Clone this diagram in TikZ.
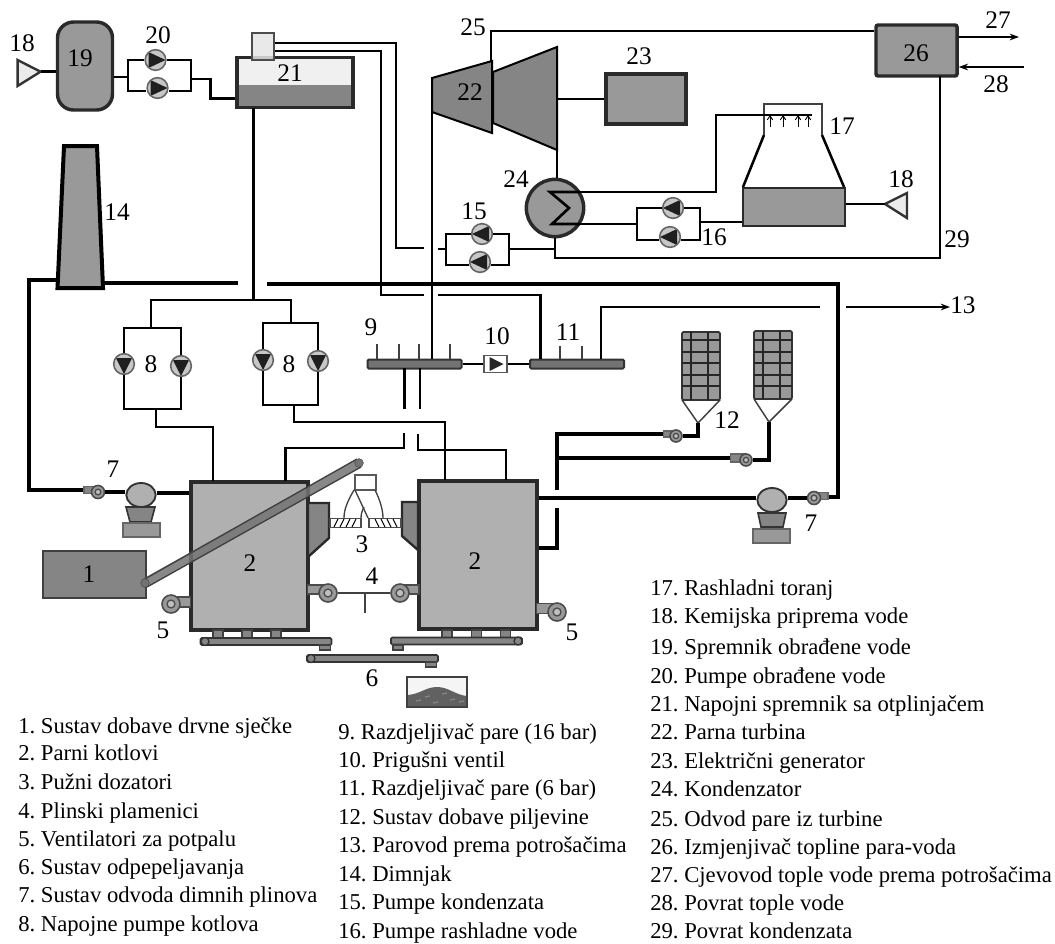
\documentclass[tikz,border=0pt]{standalone}
\usepackage{fontspec}
\setmainfont{Liberation Serif}
\frenchspacing
\usetikzlibrary{arrows.meta,shapes.geometric}
\definecolor{tankgray}{HTML}{999999}
\definecolor{darkgray}{HTML}{858585}
\definecolor{boilergray}{HTML}{B0B0B0}
\definecolor{edgegray}{HTML}{2A2A2A}
\tikzset{
  sized/.style 2 args={minimum width=#1*0.75pt,minimum height=#2*0.75pt,inner sep=0pt},
  equip/.style={draw=edgegray,line width=2.6pt,fill=tankgray},
  pipe/.style={line width=1.9pt,draw=black},
  flue/.style={line width=3pt,draw=black},
  thinpipe/.style={line width=1pt,draw=black!75},
  num/.style={font=\fontsize{19}{22}\selectfont,inner sep=0pt},
  legend/.style={font=\fontsize{17}{20}\selectfont,anchor=base west,inner sep=0pt},
  pumpnode/.style={circle,draw=black!60,fill=black!22,line width=1.2pt,minimum size=15.5pt,inner sep=0pt,
    path picture={\fill[black!88,shift={(path picture bounding box.center)}] #1 -- cycle;}},
  pumpright/.style={pumpnode={(-7,-8) -- (10,0) -- (-7,8)}},
  pumpleft/.style={pumpnode={(7,-8) -- (-10,0) -- (7,8)}},
  pumpdown/.style={pumpnode={(-8,-6) -- (0,10) -- (8,-6)}},
  fannode/.style={circle,draw=black!70,fill=black!40,line width=1.2pt,minimum size=#1*0.75pt,inner sep=0pt,
    path picture={\draw[black!70,line width=1pt,fill=black!25] (path picture bounding box.center) circle (#1*0.22);}},
  footnode/.style={draw=black!75,line width=1.2pt,fill=darkgray,sized={#1}{8}},
}
\begin{document}
\begin{tikzpicture}[x=0.75pt,y=-0.75pt]
  \useasboundingbox (0,0) rectangle (1055,943);
  % water treatment
  \draw[draw=black!80,line width=1.8pt,fill=black!8] (17.6,60) -- (40.5,71.7) -- (17.6,86) -- cycle;
  \coordinate (tri18l) at (40.5,71.7);
  \node[equip,sized={55}{88},rounded corners=12pt] (b19) at (85,66) {};
  \node[pumpright] (p20a) at (155.5,60) {};
  \node[pumpright] (p20b) at (157.5,88) {};
  \node[draw=edgegray,line width=2.6pt,fill=black!6,sized={116}{50},
    path picture={\fill[darkgray] (path picture bounding box.south west) rectangle ([yshift=-2pt]path picture bounding box.east);}] (b21) at (295,82.5) {};
  \node[draw=black!70,line width=1.5pt,fill=black!10,fill opacity=.85,sized={22}{27}] (b21top) at (263,46.5) {};
  \coordinate (j20l) at (128,77);
  \coordinate (j20r) at (191,79);
  \draw[pipe] (tri18l) -- (tri18l -| b19.west);
  \draw[pipe] (b19.east |- j20l) -- (j20l);
  \draw[pipe] (p20a.west) -- (128,60) -- (128,91) -- (p20b.west |- 0,91);
  \draw[pipe] (p20a.east) -- (191,60) -- (191,91) -- (p20b.east |- 0,91);
  \draw[pipe] (j20r) -| (210.6,98.7) -- (b21.west |- 0,98.7);
  % chimney
  \draw[line width=3pt,fill=tankgray] (64,146) -- (97,146) -- (103,288) -- (57.5,288) -- cycle;
  \coordinate (chim) at (57.5,280);
  \coordinate (chimr) at (103,283);
  \coordinate (flueend) at (238,283);
  \coordinate (fluestart) at (267,284);
  % turbine and generator
  \draw[draw=black,line width=1.5pt,fill=darkgray] (432,78) -- (492,61) -- (492,133) -- (432,112) -- cycle;
  \draw[draw=black,line width=1.5pt,fill=darkgray] (493,72) -- (557,47) -- (557,150) -- (493,123) -- cycle;
  \coordinate (t22t) at (491,61);
  \coordinate (t22b) at (432,112);
  \coordinate (t23s) at (557,99);
  \coordinate (t23b) at (557,150);
  \node[equip,sized={80}{50}] (b23) at (646,99) {};
  \node[equip,sized={81}{51},rounded corners=1.5pt] (b26) at (916.5,50.5) {};
  \node[circle,equip,minimum size=43pt,inner sep=0pt] (b24) at (555,208) {};
  \draw[pipe,line width=2pt] (580,192) -- (550,192) -- (569,208) -- (552,224) -- (580,224);
  \coordinate (s24t) at (580,192);
  \coordinate (s24b) at (580,224);
  % cooling tower
  \node[draw=edgegray,line width=1.6pt,fill=tankgray,sized={102}{38}] (b17) at (794,207) {};
  \draw[line width=1pt,draw=black!75] (764,135) -- (764,104) -- (822,104) -- (822,135);
  \draw[pipe] (764,135) -- (743,187);
  \draw[pipe] (822,135) -- (844,187);
  \foreach \x in {770,783,798,808}
    \draw[line width=.7pt,-{Straight Barb[length=3pt,width=4pt]}] (\x,127) -- (\x,115);
  \draw[draw=black!80,line width=1.8pt,fill=black!8] (885,204) -- (907,193) -- (907,218) -- cycle;
  \coordinate (tri18r) at (885,204);
  \node[pumpleft] (p16a) at (673,208) {};
  \node[pumpleft] (p16b) at (670,237) {};
  \node[pumpleft] (p15a) at (482,234) {};
  \node[pumpleft] (p15b) at (480,262) {};
  \coordinate (j15l) at (446,249);
  \coordinate (j15r) at (509,249);
  \coordinate (j16l) at (637,224);
  \coordinate (j16r) at (700,222);
  \draw[pipe] (p16a.west) -- (637,208) -- (637,240) -- (p16b.west |- 0,240);
  \draw[pipe] (p16a.east) -- (700,208) -- (700,240) -- (p16b.east |- 0,240);
  \draw[pipe] (p15a.west) -- (446,234) -- (446,265) -- (p15b.west |- 0,265);
  \draw[pipe] (p15a.east) -- (509,234) -- (509,265) -- (p15b.east |- 0,265);
  \draw[pipe] (t23s) -- (b23.west);
  \draw[pipe] (t23b) -- (b24.north -| t23b);
  \draw[pipe] (t22t) |- (b26.west |- 0,31);
  \draw[pipe] (s24t) -- (716,192) -- (716,115) -- (812,115);
  \draw[pipe] (s24b) -- (j16l);
  \draw[pipe] (j16r) -- (b17.west |- j16r);
  \draw[pipe] (b17.east |- tri18r) -- (tri18r);
  \draw[pipe] (j15r) -- (555,249);
  \draw[pipe] (b24.south) -- (555,258) -- (940,258) -- (940,76);
  \draw[pipe,-{Stealth[length=7pt,width=5pt]}] (b26.east |- 0,37) -- (1019,37);
  \draw[pipe,-{Stealth[length=7pt,width=5pt]}] (1024,67) -- (b26.east |- 0,67);
  % flue gas lines
  \draw[flue] (chim) -- (29,280) -- (29,490) -- (85,490);
  \draw[flue] (chimr) -- (flueend);
  \draw[flue] (fluestart) -- (838,284) -- (838,497) -- (828,497);
  % steam from deaerator and feed lines
  \draw[pipe] (b21top.east |- 0,43) -- (396,43) -- (396,248) -- (424,248);
  \draw[pipe] (438,249) -- (j15l);
  \draw[pipe] (b21top.east |- 0,51) -- (381,51) -- (381,295) -- (424,295);
  % distributors
  \node[draw=black!80,line width=1.5pt,fill=black!55,sized={94}{9},rounded corners=1pt] (b9) at (414.5,364) {};
  \node[draw=black!80,line width=1.5pt,fill=black!55,sized={94}{9},rounded corners=1pt] (b11) at (577,364) {};
  \node[draw=black!65,line width=1.3pt,fill=white,sized={23}{17},
    path picture={\fill[black!85,shift={(path picture bounding box.center)}] (-6,-7) -- (8,0) -- (-6,7) -- cycle;}] (b10) at (495.5,364) {};
  \draw[pipe] (b9.east) -- (b10.west);
  \draw[pipe] (b10.east) -- (b11.west);
  \foreach \x in {377,399,419,450}
    \draw[thinpipe,line width=1.2pt] (\x,359) -- (\x,344);
  \foreach \x in {560,582}
    \draw[thinpipe,line width=1.2pt] (\x,359) -- (\x,346);
  \draw[pipe] (t22b) -- (432,359);
  \draw[pipe] (438,295) -- (540.5,295) -- (540.5,359);
  \draw[pipe] (601,359) -- (601,307) -- (820,307);
  \node[num,anchor=west] (n13) at (950,305) {13};
  \draw[pipe,-{Stealth[length=7pt,width=5pt]}] (846,307) -- (n13.west |- 0,307);
  \draw[pipe] (404.6,368) -- (404.6,409);
  \draw[pipe] (420,368) -- (420,409);
  % feed pumps
  \coordinate (v21) at (253.5,108);
  \draw[pipe] (v21) -- (253.5,300);
  \draw[pipe] (151,328) -- (151,300) -- (291,300) -- (291,323);
  \node[pumpdown] (p8a) at (124,364) {};
  \node[pumpdown] (p8b) at (181,366) {};
  \node[pumpdown] (p8c) at (263,360) {};
  \node[pumpdown] (p8d) at (318,361) {};
  \draw[pipe] (p8a.north) -- (p8a.north |- 0,328) -- (p8b.north |- 0,328) -- (p8b.north);
  \draw[pipe] (p8a.south) -- (p8a.south |- 0,409) -- (p8b.south |- 0,409) -- (p8b.south);
  \draw[pipe] (p8c.north) -- (p8c.north |- 0,323) -- (p8d.north |- 0,323) -- (p8d.north);
  \draw[pipe] (p8c.south) -- (p8c.south |- 0,405) -- (p8d.south |- 0,405) -- (p8d.south);
  % silos
  \foreach \xa/\xb/\ya/\yb/\xl/\xr/\ty/\tx in {682/720/332/400/691/708/423/698,754/792/331/399/763/780/422/769}{
    \draw[draw=black!75,line width=1.1pt] (\xa,\yb) -- (\tx,\ty) -- (\xb,\yb);
    \draw[draw=black!80,line width=1.3pt,fill=tankgray,rounded corners=1pt] (\xa,\ya) rectangle (\xb,\yb);
    \foreach \g in {340,352,363,375,386}
      \draw[line width=1pt,draw=black!85] (\xa,\g) -- (\xb,\g);
    \draw[line width=1pt,draw=black!85] (\xl,\ya) -- (\xl,\yb);
    \draw[line width=1pt,draw=black!85] (\xr,\ya) -- (\xr,\yb);
  }
  \node[draw=black!60,line width=1pt,fill=darkgray,sized={13}{6}] (duct12a) at (670,434) {};
  \node[fannode=12] (fan12a) at (676,436) {};
  \node[draw=black!60,line width=1pt,fill=darkgray,sized={15}{8}] (duct12b) at (738,458) {};
  \node[fannode=12] (fan12b) at (746,460) {};
  \coordinate (silo1) at (698,423);
  \coordinate (silo2) at (769,422);
  \draw[flue] (silo1) |- (fan12a.east);
  \draw[flue] (silo2) |- (fan12b.east);
  \draw[flue] (duct12a.west) -- (557,434) -- (557,490);
  \draw[flue] (duct12b.west) -- (557,458);
  % boilers
  \node[equip,fill=boilergray,sized={117}{148}] (b2l) at (249.5,556) {};
  \node[equip,fill=boilergray,sized={118}{148}] (b2r) at (478,555) {};
  \draw[flue] (557,508) -- (557,548) -- (b2r.east |- 0,548);
  \draw[pipe] (156,409) -- (156,427) -- (213,427) -- (213,481);
  \draw[pipe] (294,405) -- (294,422) -- (445,422) -- (445,480);
  \draw[pipe] (404,433) -- (404,448) -- (285.6,448) -- (285.6,481);
  \draw[pipe] (418,434) -- (418,450) -- (506,450) -- (506,480);
  \foreach \n/\x in {a/218,b/247,c/276,d/447,e/476.5,f/505.5}
    \node[footnode=10] (foot\n) at (\x,634) {};
  % burners
  \draw[draw=edgegray,line width=1.8pt,fill=darkgray] (308,503) -- (329,503) -- (329,538) -- (308,557) -- cycle;
  \draw[draw=edgegray,line width=1.8pt,fill=darkgray] (418,502) -- (402,502) -- (402,536) -- (418,550) -- cycle;
  % flue gas blowers
  \node[draw=black!60,line width=1pt,fill=darkgray,sized={12}{7}] (duct7l) at (90,490) {};
  \node[fannode=13] (fan7l) at (98,492) {};
  \node[draw=black!80,line width=1.4pt,fill=boilergray,ellipse,minimum width=22pt,minimum height=18pt,inner sep=0pt] (bl7l) at (141,495) {};
  \draw[draw=black!80,line width=1.2pt,fill=darkgray] (126,507) -- (155,507) -- (151,522) -- (130,522) -- cycle;
  \node[draw=black!60,line width=1.2pt,fill=tankgray,sized={37}{14}] (base7l) at (141.5,530) {};
  \draw[flue] (fan7l.east) -- (bl7l.west |- fan7l.east);
  \draw[flue] (bl7l.east |- 0,493) -- (b2l.west |- 0,493);
  \node[draw=black!80,line width=1.4pt,fill=boilergray,ellipse,minimum width=22pt,minimum height=18pt,inner sep=0pt] (bl7r) at (772,500) {};
  \draw[draw=black!80,line width=1.2pt,fill=darkgray] (758,513) -- (786,513) -- (783,527) -- (761,527) -- cycle;
  \node[draw=black!60,line width=1.2pt,fill=tankgray,sized={37}{14}] (base7r) at (771.5,536) {};
  \node[draw=black!60,line width=1pt,fill=darkgray,sized={14}{7}] (duct7r) at (821,496) {};
  \node[fannode=13] (fan7r) at (814,498) {};
  \draw[flue] (fan7r.west) -- (bl7r.east |- fan7r.west);
  \draw[flue] (bl7r.west |- fan7r.west) -- (b2r.east |- fan7r.west);
  % feeder
  \node[draw=black!75,line width=1.5pt,fill=darkgray,sized={103}{47}] (b1) at (94.5,574.5) {};
  \draw[line width=7pt,draw=black!55,opacity=.85] (145,583) -- (359,463);
  \draw[line width=1pt,draw=black!75] (143,580) -- (357,459);
  \draw[line width=1pt,draw=black!75] (147,587) -- (361,467);
  \node[circle,draw=black!70,fill=black!55,minimum size=6.5pt,inner sep=0pt] (conv1) at (145,583) {};
  \node[circle,draw=black!70,fill=black!55,minimum size=6.5pt,inner sep=0pt] (conv2) at (359,463) {};
  % dosing screws
  \node[draw=black!65,line width=1.1pt,fill=white,sized={21}{15}] (b3top) at (365.5,482.5) {};
  \draw[thinpipe] (354,490) .. controls (347,502) and (344,510) .. (344,518);
  \draw[thinpipe] (355,490) -- (368,518);
  \draw[thinpipe] (364,507) .. controls (362,511) and (361,514) .. (361,518);
  \draw[thinpipe] (375,490) .. controls (380,500) and (383,510) .. (383,518);
  \node[draw=black!70,line width=1.1pt,fill=white,sized={31}{9}] (b3l) at (345.5,523) {};
  \node[draw=black!70,line width=1.1pt,fill=white,sized={32}{9}] (b3r) at (385,523) {};
  \foreach \x in {338,344,350,356}
    \draw[line width=.8pt] (\x-4,527) -- (\x,519);
  \foreach \x in {375,381,387,393}
    \draw[line width=.8pt] (\x,519) -- (\x+4,527);
  % burners with blowers
  \node[draw=black!70,line width=1.2pt,fill=black!40,sized={17}{9}] (duct4l) at (316,589.5) {};
  \node[fannode=18] (fan4l) at (328,593) {};
  \node[draw=black!70,line width=1.2pt,fill=black!40,sized={18}{9}] (duct4r) at (410,589.5) {};
  \node[fannode=18] (fan4r) at (400,593) {};
  \draw[thinpipe] (fan4l) -- (fan4r);
  \coordinate (tee4) at (365,593);
  \coordinate (tee4e) at (365,613);
  \draw[thinpipe,line width=1.2pt] (tee4) -- (tee4e);
  \node[draw=black!70,line width=1.2pt,fill=black!40,sized={19}{10}] (duct5l) at (181,602) {};
  \node[fannode=18] (fan5l) at (171,604) {};
  \node[draw=black!70,line width=1.2pt,fill=black!40,sized={19}{10}] (duct5r) at (546,608.5) {};
  \node[fannode=18] (fan5r) at (557,612) {};
  % ash conveyors
  \node[draw=black!80,line width=1.2pt,fill=darkgray,sized={131}{7},rounded corners=1pt] (c6l) at (266,641.5) {};
  \node[draw=black!80,line width=1.2pt,fill=darkgray,sized={131}{7},rounded corners=1pt] (c6r) at (456.5,641) {};
  \node[draw=black!80,line width=1.2pt,fill=darkgray,sized={131}{7},rounded corners=1pt] (c6b) at (372.5,658.5) {};
  \node[circle,draw=black!80,line width=1pt,fill=darkgray,minimum size=6pt,inner sep=0pt] (e6l) at (205,641.5) {};
  \node[circle,draw=black!80,line width=1pt,fill=darkgray,minimum size=6pt,inner sep=0pt] (e6r) at (518,641) {};
  \node[circle,draw=black!80,line width=1pt,fill=darkgray,minimum size=6pt,inner sep=0pt] (e6b) at (311,658.5) {};
  \node[footnode=11,minimum height=3.5pt] (f6l) at (325,647.5) {};
  \node[footnode=10,minimum height=3.5pt] (f6r) at (398,647.5) {};
  \node[footnode=11,minimum height=3.5pt] (f6b) at (431,664.5) {};
  % ash pile
  \node[draw=black!75,line width=1.3pt,fill=black!4,sized={60}{30}] (b6pile) at (437,692) {};
  \fill[black!62] (408,695) .. controls (420,694) and (426,687) .. (437,687) .. controls (448,687) and (454,694) .. (466,696) -- (466,706) -- (408,706) -- cycle;
  \foreach \x/\y in {416/701,425/697,433/703,442/694,450/700,459/702}
    \draw[line width=1pt,draw=black!48] (\x,\y) -- ++(5,-1);
  % numbers
  \node[num] (n18a) at (22,43) {18};
  \node[num] (n19) at (80,58) {19};
  \node[num] (n20) at (158,35) {20};
  \node[num] (n21) at (290,73) {21};
  \node[num] (n25) at (473,27) {25};
  \node[num] (n22) at (470,92) {22};
  \node[num] (n23) at (639,56) {23};
  \node[num] (n26) at (916,53) {26};
  \node[num] (n27) at (998,20) {27};
  \node[num] (n28) at (996,84) {28};
  \node[num] (n17) at (842,126) {17};
  \node[num] (n14) at (117,212) {14};
  \node[num] (n24) at (516,179) {24};
  \node[num] (n15) at (474,211) {15};
  \node[num] (n18b) at (901,179) {18};
  \node[num] (n16) at (714,237) {16};
  \node[num] (n29) at (957,239) {29};
  \node[num] (n9) at (371,327) {9};
  \node[num] (n10) at (497,336) {10};
  \node[num] (n11) at (568,332) {11};
  \node[num] (n8a) at (151,364) {8};
  \node[num] (n8b) at (289,364) {8};
  \node[num] (n12) at (727,420) {12};
  \node[num] (n7a) at (113,469) {7};
  \node[num] (n7b) at (811,523) {7};
  \node[num] (n1) at (89,574) {1};
  \node[num] (n3) at (362,544) {3};
  \node[num] (n2a) at (250,563) {2};
  \node[num] (n2b) at (475,561) {2};
  \node[num] (n4) at (372,576) {4};
  \node[num] (n5a) at (163,630) {5};
  \node[num] (n5b) at (572,632) {5};
  \node[num] (n6) at (372,678) {6};
  % legend
  \foreach \n/\y/\t in {1/733/1. Sustav dobave drvne sječke,2/760/2. Parni kotlovi,3/789/3. Pužni dozatori,4/818/4. Plinski plamenici,5/846/5. Ventilatori za potpalu,6/874/6. Sustav odpepeljavanja,7/902/7. Sustav odvoda dimnih plinova,8/931/8. Napojne pumpe kotlova}
    \node[legend] (leg\n) at (18,\y) {\t};
  \foreach \n/\y/\t in {9/739/9. Razdjeljivač pare (16 bar),10/767/10. Prigušni ventil,11/795/11. Razdjeljivač pare (6 bar),12/824/12. Sustav dobave piljevine,13/852/13. Parovod prema potrošačima,14/881/14. Dimnjak,15/909/15. Pumpe kondenzata,16/938/16. Pumpe rashladne vode}
    \node[legend] (leg\n) at (338,\y) {\t};
  \foreach \n/\y/\t in {17/595/17. Rashladni toranj,18/623/18. Kemijska priprema vode,19/654/19. Spremnik obrađene vode,20/683/20. Pumpe obrađene vode,21/711/21. Napojni spremnik sa otplinjačem,22/739/22. Parna turbina,23/768/23. Električni generator,24/796/24. Kondenzator,25/826/25. Odvod pare iz turbine,26/854/26. Izmjenjivač topline para-voda,27/882/27. Cjevovod tople vode prema potrošačima,28/910/28. Povrat tople vode,29/938/29. Povrat kondenzata}
    \node[legend] (leg\n) at (650,\y) {\t};
\end{tikzpicture}
\end{document}
